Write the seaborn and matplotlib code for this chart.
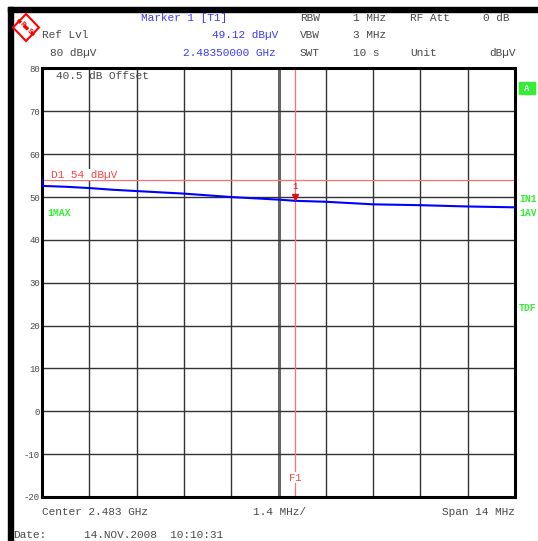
import seaborn as sns
import matplotlib.pyplot as plt
import matplotlib.patches as mpatches
import pandas as pd

# trace (GHz, dBuV)
freq = [2.4760, 2.47601, 2.4767, 2.4774, 2.4781, 2.4788, 2.4795, 2.4802, 2.4809,
        2.4816, 2.4823, 2.4830, 2.4835, 2.4844, 2.4858, 2.4872, 2.4886, 2.4900]
level = [54.2, 52.6, 52.4, 52.1, 51.7, 51.4, 51.1, 50.8, 50.4,
         50.0, 49.7, 49.4, 49.12, 48.9, 48.3, 48.1, 47.8, 47.6]

marker_freq = 2.4835
marker_level = 49.12
display_line = 54
y_ticks = [80, 70, 60, 50, 40, 30, 20, 10, 0, -10, -20]

df = pd.DataFrame({'freq': freq, 'level': level})

sns.set_style('white')
plt.rcParams['font.family'] = ['Liberation Mono', 'DejaVu Sans Mono']

fig = plt.figure(figsize=(5.38, 5.41), dpi=100)
ax = fig.add_axes([42/538, 1 - 497/541, (515 - 42)/538, (497 - 68.5)/541])

grey = '#4a4a4a'
blue = '#3c3cff'
green = '#33ee33'

# grid
xgrid = [2.476 + 0.0014 * i for i in range(11)]
for x in xgrid[1:-1]:
    if abs(x - 2.483) < 1e-6:
        ax.axvline(x, color='#666666', lw=2.2, zorder=1)
    else:
        ax.axvline(x, color='#333333', lw=1, zorder=1)
for y in y_ticks[1:-1]:
    ax.axhline(y, color='#333333', lw=1, zorder=1)

# display line and marker frequency line
ax.axhline(display_line, color='#ff7070', lw=0.9, zorder=2)
ax.axvline(marker_freq, color='#ff7070', lw=0.9, zorder=2)

sns.lineplot(data=df, x='freq', y='level', color='#0000ff', lw=1.5, ax=ax, zorder=3)

ax.plot([marker_freq], [50.1], marker='v', color='#dd1111', ms=5, zorder=4)
ax.text(marker_freq, 51.3, '1', color='#dd1111', fontsize=6.5, ha='center', va='bottom')
ax.text(marker_freq, -15.5, 'F1', color='#ff4444', fontsize=7.5, ha='center', va='center',
        bbox=dict(facecolor='white', edgecolor='none', pad=0.5))
ax.text(2.47627, display_line, 'D1 54 dB\u00b5V', color='#ff4444', fontsize=8, va='bottom',
        bbox=dict(facecolor='white', edgecolor='none', pad=0.3))
ax.text(2.47641, 78.3, '40.5 dB Offset', color=grey, fontsize=8, va='center')

ax.set_xlim(2.476, 2.490)
ax.set_ylim(-20, 80)
ax.set_xticks([])
ax.set_yticks(y_ticks)
ax.set_yticklabels([str(v) for v in y_ticks], fontsize=6.5, color=grey)
ax.tick_params(axis='y', length=0, pad=1.5)
ax.set_xlabel('')
ax.set_ylabel('')
for s in ax.spines.values():
    s.set_color('black')
    s.set_linewidth(2.2)

# header
def ftext(x, y, s, color=grey, **kw):
    fig.text(x/538, 1 - y/541, s, color=color, fontsize=8, va='center', **kw)

ftext(141, 18, 'Marker 1 [T1]', blue)
ftext(300, 18, 'RBW')
ftext(353, 18, '1 MHz')
ftext(410, 18, 'RF Att')
ftext(483, 18, '0 dB')
ftext(42, 35, 'Ref Lvl')
ftext(278, 35, '49.12 dB\u00b5V', blue, ha='right')
ftext(300, 35, 'VBW')
ftext(353, 35, '3 MHz')
ftext(50, 53, '80 dB\u00b5V')
ftext(276, 53, '2.48350000 GHz', blue, ha='right')
ftext(300, 53, 'SWT')
ftext(353, 53, '10 s')
ftext(410, 53, 'Unit')
ftext(516, 53, 'dB\u00b5V', ha='right')

# bottom
ftext(42, 512, 'Center 2.483 GHz')
ftext(253, 512, '1.4 MHz/')
ftext(515, 512, 'Span 14 MHz', ha='right')
ftext(13, 535, 'Date:')
ftext(84, 535, '14.NOV.2008  10:10:31')

# side labels
def gtext(x, y, s):
    fig.text(x/538, 1 - y/541, s, color=green, fontsize=7, va='center', fontweight='bold')

gtext(47, 213, '1MAX')
gtext(519, 199, 'IN1')
gtext(519, 213, '1AV')
gtext(519, 308, 'TDF')
fig.patches.append(mpatches.Rectangle((519/538, 1 - 94/541), 16/538, 12/541,
                                      transform=fig.transFigure, color=green))
fig.text(527/538, 1 - 88/541, 'A', color='white', fontsize=6.5, ha='center', va='center',
         fontweight='bold')

# black frame bars
fig.patches.append(mpatches.Rectangle((8/538, 0), 5/538, 1 - 7/541,
                                      transform=fig.transFigure, color='black'))
fig.patches.append(mpatches.Rectangle((8/538, 1 - 11.5/541), 530/538, 4.5/541,
                                      transform=fig.transFigure, color='black'))

# R&S logo
logo = mpatches.Polygon([(13/538, 1 - 27.5/541), (26/538, 1 - 14/541),
                         (39/538, 1 - 27.5/541), (26/538, 1 - 41/541)],
                        closed=True, transform=fig.transFigure, facecolor='white',
                        edgecolor='red', lw=1.5)
fig.patches.append(logo)
fig.lines.append(plt.Line2D([19/538, 33/538], [1 - 21/541, 1 - 34/541],
                            transform=fig.transFigure, color='red', lw=2.5))
fig.text(22.5/538, 1 - 24/541, 'R', color='red', fontsize=5, ha='center', va='center',
         rotation=-45, fontweight='bold',
         bbox=dict(facecolor='white', edgecolor='none', pad=0))
fig.text(29.5/538, 1 - 31/541, 'S', color='red', fontsize=5, ha='center', va='center',
         rotation=-45, fontweight='bold',
         bbox=dict(facecolor='white', edgecolor='none', pad=0))

plt.savefig('out.png', dpi=100)
